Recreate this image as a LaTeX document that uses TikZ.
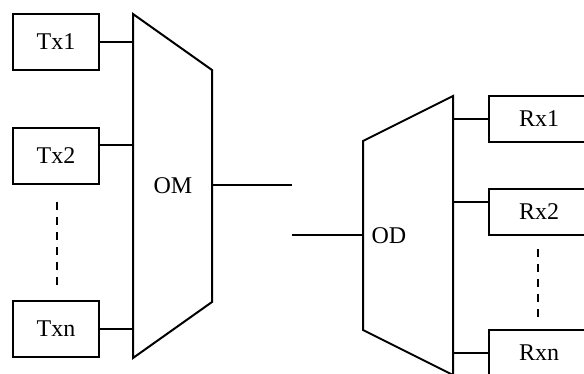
\documentclass[tikz,border=0pt]{standalone}
\usepackage{fontspec}
\setmainfont{Liberation Serif}
\tikzset{
  unit/.style={draw, line width=1pt, minimum width=43pt, minimum height=28pt, inner sep=0pt},
  rxunit/.style={draw, line width=1pt, minimum width=50pt, minimum height=23pt, inner sep=0pt},
  mux/.style={line width=1pt, line join=miter},
  wire/.style={line width=0.6pt},
  dots/.style={line width=1.4pt, dash pattern=on 4pt off 3.5pt}
}
\begin{document}
\begin{tikzpicture}[x=0.5pt, y=-0.5pt, font=\fontsize{12}{14}\selectfont]
    \useasboundingbox (0,0) rectangle (584,374);
    \clip (0,0) rectangle (584,374);
% Multiplexer and demultiplexer
    \draw[mux] (133,14) coordinate (omTL) -- (212,70) -- (212,302) -- (133,358) -- cycle;
    \coordinate (omR) at (212,185);
    \node (om) at (173,186) {OM};
    \draw[mux] (363,141) coordinate (odL) -- (453,96) coordinate (odTR) -- (453,375) -- (363,330) -- cycle;
    \node (od) at (389,236) {OD};
% Transmitters
    \node[unit] (tx1) at (56,42) {Tx1};
    \node[unit] (tx2) at (56,156) {Tx2};
    \node[unit] (txn) at (56,329) {Txn};
    \draw[dots] (57,202) -- (57,286);
% Receivers
    \node[rxunit] (rx1) at (539,119) {Rx1};
    \node[rxunit] (rx2) at (539,212) {Rx2};
    \node[rxunit] (rxn) at (539,353) {Rxn};
    \draw[dots] (538,249) -- (538,318);
% Links
    \draw[wire] (tx1.east) -- (tx1.east -| omTL);
    \draw[wire] ([yshift=5.5pt]tx2.east) coordinate (tx2o) -- (tx2o -| omTL);
    \draw[wire] (txn.east) -- (txn.east -| omTL);
    \draw[wire] (rx1.west) -- (rx1.west -| odTR);
    \draw[wire] ([yshift=5pt]rx2.west) coordinate (rx2i) -- (rx2i -| odTR);
    \draw[wire] (rxn.west) -- (rxn.west -| odTR);
    \coordinate (gapA) at (292,185);
    \coordinate (gapB) at (292,235);
    \draw[wire] (omR) -- (gapA);
    \draw[wire] (gapB) -- (gapB -| odL);
\end{tikzpicture}
\end{document}
